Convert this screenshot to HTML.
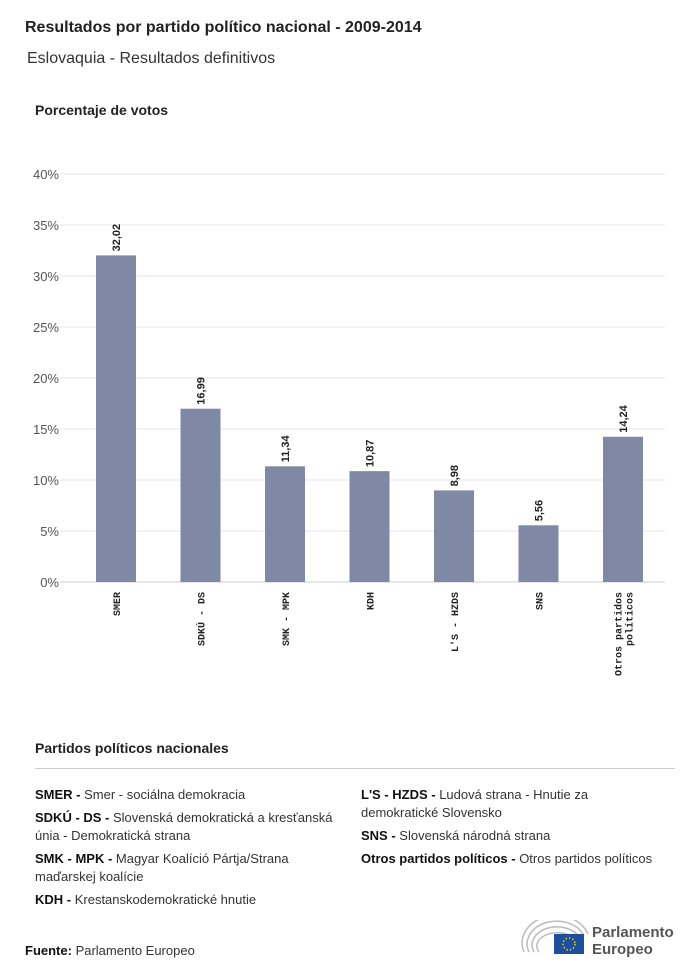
<!DOCTYPE html>
<html><head><meta charset="utf-8"><style>
body{margin:0;width:700px;height:977px;background:#fff;font-family:"Liberation Sans",sans-serif;color:#222;position:relative;overflow:hidden}
.abs{position:absolute}
.leg{font-size:13px;line-height:18px;color:#333}
.leg b{color:#111}
</style></head><body>
<div class="abs" style="left:25px;top:19px;font-size:16px;font-weight:bold">Resultados por partido político nacional - 2009-2014</div>
<div class="abs" style="left:27px;top:50px;font-size:16px;color:#333">Eslovaquia - Resultados definitivos</div>
<div class="abs" style="left:35px;top:102px;font-size:14px;font-weight:bold">Porcentaje de votos</div>
<svg id="chart" class="abs" style="left:0;top:0" width="700" height="700"></svg>
<div class="abs" style="left:35px;top:740px;font-size:14px;font-weight:bold">Partidos políticos nacionales</div>
<div class="abs" style="left:35px;top:768px;width:640px;height:1px;background:#ccc"></div>
<div class="abs leg" style="left:35px;top:786px;width:310px">
<div style="margin-bottom:5px"><b>SMER - </b>Smer - sociálna demokracia</div>
<div style="margin-bottom:5px"><b>SDKÚ - DS - </b>Slovenská demokratická a kresťanská únia - Demokratická strana</div>
<div style="margin-bottom:5px"><b>SMK - MPK - </b>Magyar Koalíció Pártja/Strana maďarskej koalície</div>
<div><b>KDH - </b>Krestanskodemokratické hnutie</div>
</div>
<div class="abs leg" style="left:361px;top:786px;width:296px">
<div style="margin-bottom:5px"><b>L'S - HZDS - </b>Ludová strana - Hnutie za demokratické Slovensko</div>
<div style="margin-bottom:5px"><b>SNS - </b>Slovenská národná strana</div>
<div><b>Otros partidos políticos - </b>Otros partidos políticos</div>
</div>
<div class="abs" style="left:25px;top:943px;font-size:13px;color:#333"><b style="color:#111">Fuente:</b> Parlamento Europeo</div>
<div class="abs" style="left:520px;top:920px;width:160px;height:40px">
<svg width="72" height="40" style="position:absolute;left:0;top:0"><g fill="none" stroke="#bbb" stroke-width="1.5"><path d="M4 32 A32 26 0 0 1 68 14"/><path d="M9 32 A27 21 0 0 1 64 16"/><path d="M14 32 A22 16 0 0 1 60 18"/><path d="M19 32 A17 11 0 0 1 56 20"/></g><rect x="34" y="14" width="30" height="20" fill="#1d4f9c"/><circle cx="49" cy="24" r="6" fill="none" stroke="#f5d000" stroke-width="1.5" stroke-dasharray="1.5 2"/></svg>
<div style="position:absolute;left:72px;top:4px;font-size:15px;font-weight:bold;color:#555;line-height:17px">Parlamento<br>Europeo</div>
</div>
<script>
const categories=["SMER","SDKÚ - DS","SMK - MPK","KDH","L'S - HZDS","SNS","Otros partidos políticos"];
const values=[32.02,16.99,11.34,10.87,8.98,5.56,14.24];
const valueLabels=["32,02","16,99","11,34","10,87","8,98","5,56","14,24"];
const ticks=[0,5,10,15,20,25,30,35,40];
const tickLabels=["0%","5%","10%","15%","20%","25%","30%","35%","40%"];
const NS="http://www.w3.org/2000/svg",svg=document.getElementById('chart');
const y0=582,y40=174,xr=665;
const y=v=>y0-(y0-y40)*v/40;
const step=84.5;
const xc=i=>116+step*i;
function mk(t,a){const e=document.createElementNS(NS,t);for(const k in a)e.setAttribute(k,a[k]);svg.appendChild(e);return e;}
ticks.forEach((t,i)=>{
 const g=mk('line',{x1:60,x2:xr,y1:y(t),y2:y(t),stroke:t===0?'#ccc':'#e6e6e6','stroke-width':1});
 
 
 const l=mk('text',{x:59,y:y(t)+5,'text-anchor':'end','font-size':13,fill:'#555','font-family':'Liberation Sans'});
 l.textContent=tickLabels[i];
 
 
});
categories.forEach((c,i)=>{
 const cx=xc(i);
 const r=mk('rect',{x:cx-20,y:y(values[i]),width:40,height:y0-y(values[i]),fill:'#7f89a6'});
 
 
 const v=mk('text',{transform:`translate(${cx+4},${y(values[i])-4}) rotate(-90)`,'font-size':11,'font-weight':'bold',fill:'#222','font-family':'Liberation Sans'});
 v.textContent=valueLabels[i];
 
 
 const words=c==="Otros partidos políticos"?["Otros partidos","políticos"]:[c];
 words.forEach((w,j)=>{
  const off=(j-(words.length-1)/2)*11;
  const t=mk('text',{transform:`translate(${cx+4+off},592) rotate(-90)`,'text-anchor':'end','font-size':10,fill:'#222','font-family':'Liberation Mono','font-weight':'bold'});
  t.textContent=w;
  
  
 });
});
</script>
</body></html>
